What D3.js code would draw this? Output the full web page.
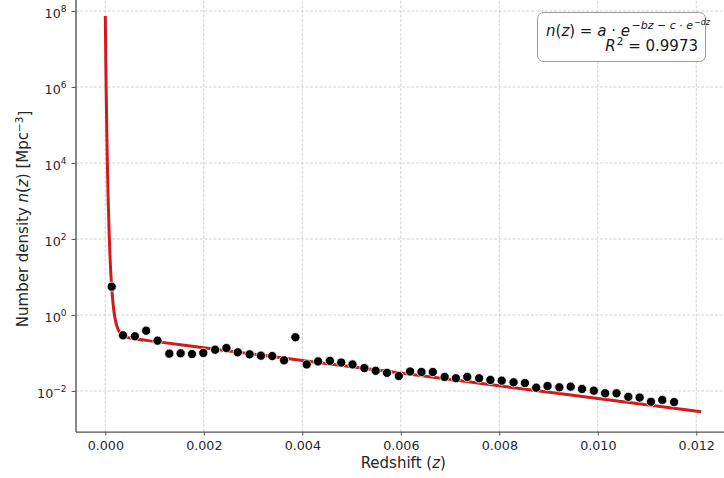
<!DOCTYPE html>
<html>
<head>
<meta charset="utf-8">
<script src="https://cdn.jsdelivr.net/npm/d3@7/dist/d3.min.js"></script>
<style>
  html, body { margin: 0; padding: 0; background: #fff; }
  svg { display: block; font-family: "DejaVu Sans", sans-serif; }
</style>
</head>
<body>
<div id="chart"></div>
<script>
// measured points, one per redshift bin
const redshift = [
  0.00013, 0.00036, 0.00060, 0.00083, 0.00106, 0.00130, 0.00153, 0.00176, 0.00199, 0.00223,
  0.00246, 0.00269, 0.00293, 0.00316, 0.00339, 0.00363, 0.00386, 0.00409, 0.00432, 0.00456,
  0.00479, 0.00502, 0.00526, 0.00549, 0.00572, 0.00596, 0.00619, 0.00642, 0.00665, 0.00689,
  0.00712, 0.00735, 0.00759, 0.00782, 0.00805, 0.00829, 0.00852, 0.00875, 0.00898, 0.00922,
  0.00945, 0.00968, 0.00992, 0.01015, 0.01038, 0.01062, 0.01085, 0.01108, 0.01131, 0.01155
];
const density = [
  5.56, 0.292, 0.275, 0.386, 0.211, 0.096, 0.098, 0.094, 0.100, 0.122,
  0.135, 0.104, 0.092, 0.085, 0.083, 0.064, 0.259, 0.050, 0.060, 0.062,
  0.056, 0.050, 0.040, 0.034, 0.030, 0.0248, 0.0326, 0.0316, 0.0316, 0.0234,
  0.0216, 0.0234, 0.0216, 0.0195, 0.0187, 0.0169, 0.0162, 0.0122, 0.0135, 0.0125,
  0.0130, 0.0113, 0.0102, 0.0087, 0.0087, 0.0070, 0.0067, 0.0052, 0.0058, 0.0051
];

// fitted curve
const fitZ = [0, 0.00001, 0.00002, 0.00003, 0.00004, 0.00005, 0.00006, 0.00008, 0.0001, 0.00013,
  0.00016, 0.0002, 0.00025, 0.0003, 0.0004, 0.0006, 0.001, 0.002, 0.004, 0.006, 0.008, 0.010, 0.0121];
const fitN = [7.4e7, 5.1e6, 5.4e5, 7.6e4, 1.4e4, 3.3e3, 930, 123, 26, 5.4,
  1.86, 0.79, 0.45, 0.34, 0.27, 0.236, 0.202, 0.138, 0.0638, 0.0296, 0.0137, 0.00635, 0.00283];

const xTicks = [0, 0.002, 0.004, 0.006, 0.008, 0.010, 0.012];
const yTicks = [1e-2, 1, 1e2, 1e4, 1e6, 1e8];
const rSquared = '0.9973';

const width = 724;
const height = 478;
// plot box runs past the top and right edge of the picture
const plot = { left: 75.5, right: 731, top: -3.8, bottom: 431.6 };

const svg = d3.select('#chart').append('svg')
  .attr('width', width)
  .attr('height', height);

svg.append('defs').append('clipPath').attr('id', 'plot-clip')
  .append('rect')
  .attr('x', plot.left).attr('y', plot.top)
  .attr('width', plot.right - plot.left).attr('height', plot.bottom - plot.top);

const x = d3.scaleLinear()
  .domain([-0.000605, 0.012705])
  .range([plot.left, plot.right]);
const y = d3.scaleLog()
  .domain([Math.pow(10, -3.069), Math.pow(10, 8.39)])
  .range([plot.bottom, plot.top]);

// grid
const grid = svg.append('g').attr('class', 'grid')
  .attr('stroke', '#c8c8c8').attr('stroke-width', 0.8).attr('stroke-dasharray', '3,1.6');
grid.selectAll('.gx').data(xTicks).enter().append('line')
  .attr('x1', d => x(d)).attr('x2', d => x(d))
  .attr('y1', plot.top).attr('y2', plot.bottom);
grid.selectAll('.gy').data(yTicks).enter().append('line')
  .attr('x1', plot.left).attr('x2', plot.right)
  .attr('y1', d => y(d)).attr('y2', d => y(d));

// fit line
const line = d3.line()
  .x((d, i) => x(fitZ[i]))
  .y(d => y(d))
  .curve(d3.curveMonotoneX);
svg.append('path')
  .datum(fitN)
  .attr('clip-path', 'url(#plot-clip)')
  .attr('fill', 'none')
  .attr('stroke', '#d11a1a')
  .attr('stroke-width', 3)
  .attr('d', line);

// points
svg.append('g').selectAll('circle')
  .data(density)
  .enter().append('circle')
  .attr('cx', (d, i) => x(redshift[i]))
  .attr('cy', d => y(d))
  .attr('r', 4.6)
  .attr('fill', '#000')
  .attr('stroke', '#fff')
  .attr('stroke-width', 0.8);

// axes
const xAxis = d3.axisBottom(x)
  .tickValues(xTicks)
  .tickFormat(d3.format('.3f'))
  .tickSize(4).tickPadding(5).tickSizeOuter(0);
const yAxis = d3.axisLeft(y)
  .tickValues(yTicks)
  .tickSize(4).tickPadding(5).tickSizeOuter(0);

const gx = svg.append('g')
  .attr('transform', `translate(0,${plot.bottom})`)
  .call(xAxis);
const gy = svg.append('g')
  .attr('transform', `translate(${plot.left},0)`)
  .call(yAxis);

[gx, gy].forEach(g => {
  g.select('.domain').attr('stroke', '#555').attr('stroke-width', 1.4);
  g.selectAll('.tick line').attr('stroke', '#555').attr('stroke-width', 1);
  g.selectAll('.tick text')
    .attr('fill', '#262626')
    .style('font-family', '"DejaVu Sans", sans-serif')
    .style('font-size', '12.7px');
});

// powers of ten with superscripts
gy.selectAll('.tick text')
  .attr('dy', '0.5em')
  .each(function(d) {
    const exp = Math.round(Math.log10(d));
    const t = d3.select(this).text('');
    t.append('tspan').text('10');
    t.append('tspan').attr('dy', '-0.6em').style('font-size', '9px')
      .text(exp < 0 ? '\u2212' + (-exp) : exp);
  });

// axis labels
const xl = svg.append('text')
  .attr('x', (plot.left + plot.right) / 2)
  .attr('y', 468)
  .attr('text-anchor', 'middle')
  .attr('fill', '#262626')
  .style('font-size', '15px');
xl.append('tspan').text('Redshift (');
xl.append('tspan').style('font-style', 'italic').text('z');
xl.append('tspan').text(')');

const yl = svg.append('text')
  .attr('transform', `translate(28,${(plot.top + plot.bottom) / 2 + 5}) rotate(-90)`)
  .attr('text-anchor', 'middle')
  .attr('fill', '#262626')
  .style('font-size', '15px');
yl.append('tspan').text('Number density ');
yl.append('tspan').style('font-style', 'italic').text('n');
yl.append('tspan').text('(');
yl.append('tspan').style('font-style', 'italic').text('z');
yl.append('tspan').text(') [Mpc');
yl.append('tspan').attr('dy', '-0.45em').style('font-size', '10.5px').text('\u22123');
yl.append('tspan').attr('dy', '0.45em').text(']');

// annotation box with fit formula
const note = svg.append('g');
note.append('rect')
  .attr('x', 537.5).attr('y', 12.5)
  .attr('width', 168).attr('height', 49)
  .attr('rx', 6)
  .attr('fill', '#fff')
  .attr('stroke', '#9a9a9a')
  .attr('stroke-width', 1);

// formula built from tspans, exponent raised with dy
const f = note.append('text')
  .attr('x', 546).attr('y', 36)
  .attr('fill', '#1a1a1a')
  .style('font-size', '15px');
const part = (txt, opt = {}) => {
  const s = f.append('tspan').text(txt);
  if (opt.it) s.style('font-style', 'italic');
  if (opt.size) s.style('font-size', opt.size + 'px');
  if (opt.dy) s.attr('dy', opt.dy);
  if (opt.dx) s.attr('dx', opt.dx);
  return s;
};
part('n', { it: true });
part('(');
part('z', { it: true });
part(') = ');
part('a', { it: true });
part(' \u00b7 ');
part('e', { it: true });
part('\u2212', { size: 11, dy: -7, dx: 1.5 });
part('bz', { it: true, size: 11 });
part(' \u2212 ', { size: 11 });
part('c', { it: true, size: 11 });
part(' \u00b7 ', { size: 11 });
part('e', { it: true, size: 11 });
part('\u2212', { size: 8, dy: -4, dx: 1 });
part('dz', { it: true, size: 8 });

const r2 = note.append('text')
  .attr('x', 698).attr('y', 51)
  .attr('text-anchor', 'end')
  .attr('fill', '#1a1a1a')
  .style('font-size', '15px');
r2.append('tspan').style('font-style', 'italic').text('R');
r2.append('tspan').attr('dy', -6).attr('dx', 1).style('font-size', '10.5px').text('2');
r2.append('tspan').attr('dy', 6).text(' = ' + rSquared);
</script>
</body>
</html>
